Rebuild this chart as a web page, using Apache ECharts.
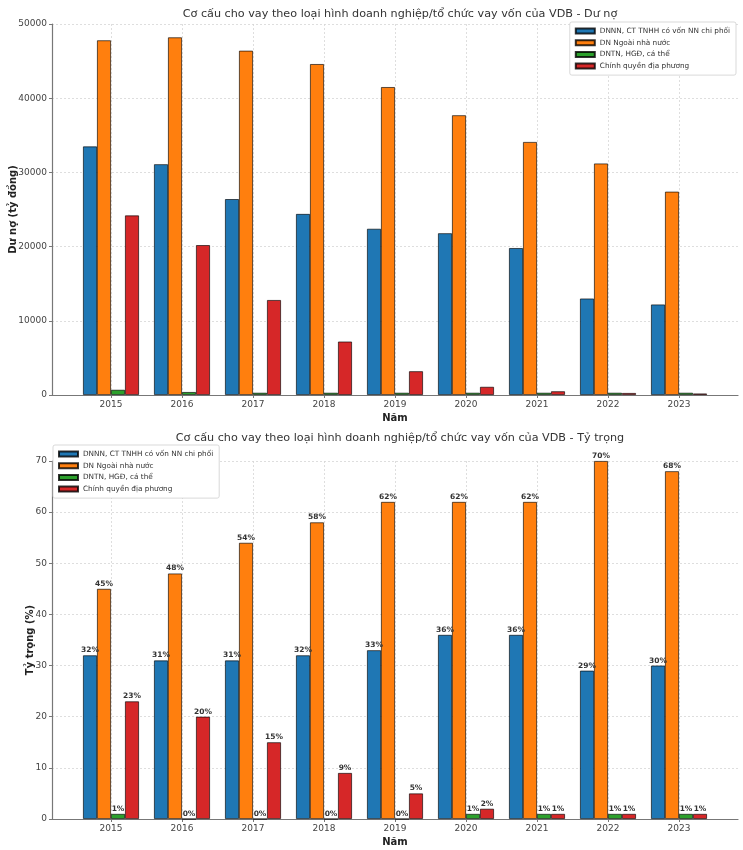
<!DOCTYPE html>
<html><head><meta charset="utf-8">
<script src="https://cdn.jsdelivr.net/npm/echarts@6/dist/echarts.min.js"></script>
<style>html,body{margin:0;padding:0;background:#fff}#c{width:743px;height:850px}</style>
</head><body><div id="c"></div>
<script>
// ---- data ----
const years = ['2015','2016','2017','2018','2019','2020','2021','2022','2023'];
const seriesNames = ['DNNN, CT TNHH có vốn NN chi phối','DN Ngoài nhà nước','DNTN, HGĐ, cá thể','Chính quyền địa phương'];
// Dư nợ (tỷ đồng)
const duNo_DNNN    = [33500,31100,26400,24400,22400,21800,19800,13000,12200];
const duNo_NgoaiNN = [47800,48200,46400,44600,41500,37700,34100,31200,27400];
const duNo_DNTN    = [700,400,300,300,300,300,300,300,300];
const duNo_CQDP    = [24200,20200,12800,7200,3200,1100,500,270,200];
// Tỷ trọng (%)
const tyTrong_DNNN    = [32,31,31,32,33,36,36,29,30];
const tyTrong_NgoaiNN = [45,48,54,58,62,62,62,70,68];
const tyTrong_DNTN    = [1,0,0,0,0,1,1,1,1];
const tyTrong_CQDP    = [23,20,15,9,5,2,1,1,1];
const titleTop = 'Cơ cấu cho vay theo loại hình doanh nghiệp/tổ chức vay vốn của VDB - Dư nợ';
const titleBottom = 'Cơ cấu cho vay theo loại hình doanh nghiệp/tổ chức vay vốn của VDB - Tỷ trọng';

// ---- style ----
const colors = ['#1f77b4','#ff7f0e','#2ca02c','#d62728'];
const FONT = 'DejaVu Sans';
const gridLine = {show:true, lineStyle:{color:'#d6d6d6', type:[2,2], width:0.8}};
const spineColor = '#777';

function fullX(gi, name){
  return {type:'value', gridIndex:gi, min:0, max:1,
    axisLine:{show:true, onZero:false, lineStyle:{color:spineColor, width:1.2}},
    axisTick:{show:false}, axisLabel:{show:false}, splitLine:{show:false},
    name:name, nameLocation:'middle', nameGap:18, nameMoveOverlap:false,
    nameTextStyle:{fontFamily:FONT, fontWeight:'bold', fontSize:10, color:'#222'}};
}
function catX(gi){
  return {type:'category', gridIndex:gi, data:years, boundaryGap:false,
    axisLine:{show:false},
    axisTick:{show:true, length:3, lineStyle:{color:spineColor}},
    axisLabel:{fontFamily:FONT, fontSize:9, color:'#444', margin:5, interval:0},
    splitLine:gridLine};
}
function valY(gi, max, interval, name, gap){
  return {type:'value', gridIndex:gi, min:0, max:max, interval:interval,
    axisLine:{show:true, lineStyle:{color:spineColor, width:1.2}},
    axisTick:{show:true, length:3, lineStyle:{color:spineColor}},
    axisLabel:{fontFamily:FONT, fontSize:9, color:'#444', margin:5,
      formatter:function(v){ return String(v); }},
    splitLine:gridLine,
    name:name, nameLocation:'middle', nameRotate:90, nameGap:gap, nameMoveOverlap:false,
    nameTextStyle:{fontFamily:FONT, fontWeight:'bold', fontSize:10, color:'#222'}};
}
function hidY(gi, max){ return {type:'value', gridIndex:gi, min:0, max:max, show:false}; }

function bar(idx, data, xi, yi, withLabel){
  return {type:'bar', name:seriesNames[idx], data:data, xAxisIndex:xi, yAxisIndex:yi,
    barWidth:14, barGap:'0%',
    itemStyle:{color:colors[idx], borderColor:'rgba(0,0,0,0.8)', borderWidth:0.8},
    label: withLabel ? {show:true, position:'top', distance:1, formatter:'{c}%',
      fontFamily:FONT, fontSize:7.5, fontWeight:'bold', color:'#333'} : {show:false},
    emphasis:{disabled:true}};
}
function legend(pos){
  return Object.assign({data:seriesNames, orient:'vertical', icon:'rect',
    itemWidth:19, itemHeight:5, itemGap:3.7, padding:[5,6,5,5],
    backgroundColor:'#fff', borderColor:'#cfcfcf', borderWidth:0.8, borderRadius:2,
    selectedMode:false,
    textStyle:{fontFamily:FONT, fontSize:7.3, lineHeight:8, color:'#333'}}, pos);
}
function grid(g){ return Object.assign({containLabel:false, outerBoundsMode:'none'}, g); }

const chart = echarts.init(document.getElementById('c'), null, {renderer:'canvas'});
chart.setOption({
  animation:false,
  color:colors,
  title:[
    {text:titleTop, left:395, top:4, textAlign:'center',
     textStyle:{fontFamily:FONT, fontSize:11.2, fontWeight:'normal', color:'#333'}},
    {text:titleBottom, left:395, top:428, textAlign:'center',
     textStyle:{fontFamily:FONT, fontSize:11.2, fontWeight:'normal', color:'#333'}}
  ],
  legend:[legend({right:7, top:22}), legend({left:53, top:445})],
  grid:[
    grid({left:52, right:5, top:24, bottom:455}),
    grid({left:111, right:64, top:24, bottom:455}),
    grid({left:52, right:5, top:461, bottom:31}),
    grid({left:111, right:64, top:461, bottom:31})
  ],
  xAxis:[fullX(0,'Năm'), catX(1), fullX(2,'Năm'), catX(3)],
  yAxis:[valY(0,50000,10000,'Dư nợ (tỷ đồng)',34), hidY(1,50000),
         valY(2,70,10,'Tỷ trọng (%)',17), hidY(3,70)],
  series:[
    bar(0,duNo_DNNN,1,1,false), bar(1,duNo_NgoaiNN,1,1,false),
    bar(2,duNo_DNTN,1,1,false), bar(3,duNo_CQDP,1,1,false),
    bar(0,tyTrong_DNNN,3,3,true), bar(1,tyTrong_NgoaiNN,3,3,true),
    bar(2,tyTrong_DNTN,3,3,true), bar(3,tyTrong_CQDP,3,3,true)
  ]
});
</script></body></html>
